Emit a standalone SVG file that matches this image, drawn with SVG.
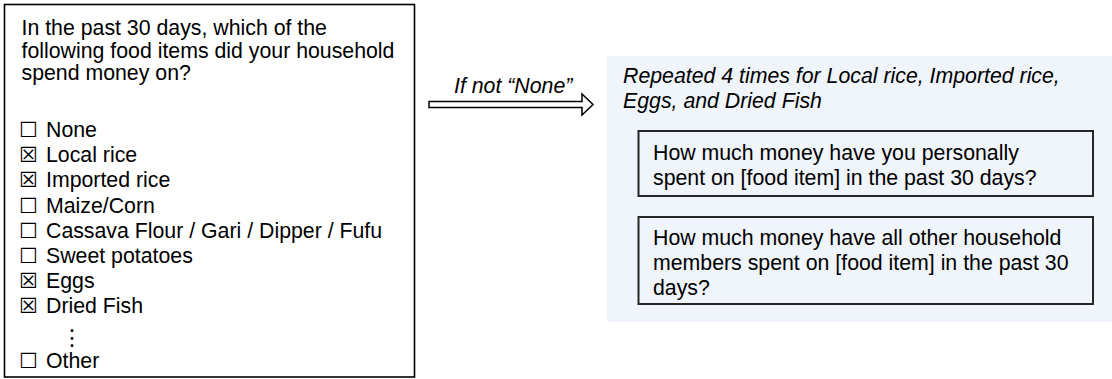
<svg xmlns="http://www.w3.org/2000/svg" width="1112" height="379" viewBox="0 0 1112 379">
<style>
.t{font-family:"Liberation Sans",Arial,sans-serif;font-size:21.3px;fill:#000}
.i{font-style:italic}
.cb{font-family:"DejaVu Sans",sans-serif;font-size:21px}
.box{fill:none;stroke:#262626;stroke-width:2}
</style>
<rect width="1112" height="379" fill="#fff"/>
<g id="question">
<rect x="4.5" y="4.5" width="410" height="372.5" fill="#fff" stroke="#000" stroke-width="1.6"/>
<text class="t" x="21.5" y="35">In the past 30 days, which of the</text>
<text class="t" x="21.5" y="57.5">following food items did your household</text>
<text class="t" x="21.5" y="80">spend money on?</text>
<text class="t" y="137"><tspan class="cb" x="19">☐ </tspan><tspan x="46">None</tspan></text>
<text class="t" y="162.2"><tspan class="cb" x="19">☒ </tspan><tspan x="46">Local rice</tspan></text>
<text class="t" y="187.4"><tspan class="cb" x="19">☒ </tspan><tspan x="46">Imported rice</tspan></text>
<text class="t" y="212.6"><tspan class="cb" x="19">☐ </tspan><tspan x="46">Maize/Corn</tspan></text>
<text class="t" y="237.8"><tspan class="cb" x="19">☐ </tspan><tspan x="46">Cassava Flour / Gari / Dipper / Fufu</tspan></text>
<text class="t" y="263"><tspan class="cb" x="19">☐ </tspan><tspan x="46">Sweet potatoes</tspan></text>
<text class="t" y="288.2"><tspan class="cb" x="19">☒ </tspan><tspan x="46">Eggs</tspan></text>
<text class="t" y="313.4"><tspan class="cb" x="19">☒ </tspan><tspan x="46">Dried Fish</tspan></text>
<text x="72" y="345" text-anchor="middle" style="font-family:'DejaVu Sans',sans-serif;font-size:22px">⋮</text>
<text class="t" y="368"><tspan class="cb" x="19">☐ </tspan><tspan x="46">Other</tspan></text>
</g>
<g id="connectors">
<polygon points="429,101.5 582,101.5 582,94 593,104.5 582,115 582,107.5 429,107.5" fill="#fff" stroke="#000" stroke-width="1.5" stroke-linejoin="miter"/>
<text class="t i" x="454" y="93">If not “None”</text>
</g>
<g id="repeat-group">
<rect x="607" y="56" width="505" height="266" fill="#F0F4FB"/>
<text class="t i" x="623" y="82.7">Repeated 4 times for Local rice, Imported rice,</text>
<text class="t i" x="623" y="107.7">Eggs, and Dried Fish</text>
</g>
<g id="q-personal">
<rect class="box" x="638.5" y="131" width="454.5" height="65"/>
<text class="t" x="653" y="160">How much money have you personally</text>
<text class="t" x="653" y="185">spent on [food item] in the past 30 days?</text>
</g>
<g id="q-others">
<rect class="box" x="638.5" y="217" width="454.5" height="87"/>
<text class="t" x="653" y="245">How much money have all other household</text>
<text class="t" x="653" y="270">members spent on [food item] in the past 30</text>
<text class="t" x="653" y="295">days?</text>
</g>
</svg>
